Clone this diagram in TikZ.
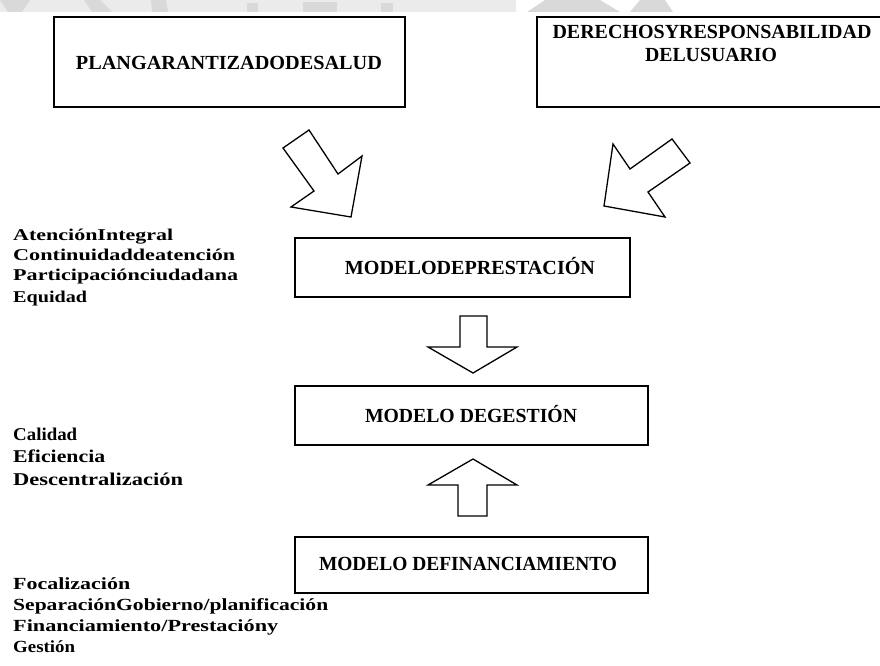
\documentclass[tikz,border=0pt]{standalone}
\usepackage{fontspec}
\setmainfont{Liberation Serif}
\usepackage{graphicx}
\newcommand{\fitw}[2]{\resizebox{#1pt}{\height}{#2}}
\begin{document}
\begin{tikzpicture}[x=1pt,y=-1pt,
  box/.style={draw, line width=2.4pt, inner sep=0pt},
  bigarrow/.style={draw, line width=1.3pt, line join=miter, fill=white},
  boxtext/.style={inner sep=0pt, anchor=base, font=\fontsize{20}{24}\selectfont\bfseries},
  sidetext/.style={inner sep=0pt, anchor=base west, font=\fontsize{16.5}{20}\selectfont\bfseries},
  sidetextb/.style={sidetext, font=\fontsize{18}{22}\selectfont\bfseries},
  sidetextc/.style={sidetext, font=\fontsize{17}{21}\selectfont\bfseries},
  wmlight/.style={fill=black!8},
  wmdark/.style={fill=black!15}]
\useasboundingbox (0,0) rectangle (880,666);
\begin{scope}
\clip (0,0) rectangle (880,666);
% faint watermark strip at the top
\fill[wmlight] (0,0) rectangle (516,12);
\fill[wmdark] (0,0) -- (30,0) -- (22,12) -- (8,12) -- cycle;
\fill[wmdark] (84,0) -- (100,0) -- (112,12) -- (92,12) -- cycle;
\fill[wmdark] (151,0) -- (166,0) -- (168,12) -- (152,12) -- cycle;
\fill[wmdark] (247,3) rectangle (258,12);
\fill[wmdark] (303,2) rectangle (337,12);
\fill[wmdark] (381,3) rectangle (393,12);
\fill[wmdark] (527,12) -- (545,0) -- (600,0) -- (620,12) -- cycle;
\fill[wmdark] (630,12) -- (640,0) -- (665,0) -- (673,12) -- cycle;

% boxes
\node[box, minimum width=351pt, minimum height=90pt] (plan) at (229.5,62) {};
\node[box, minimum width=348pt, minimum height=90pt] (derechos) at (711,62) {};
\node[box, minimum width=335pt, minimum height=59pt] (prest) at (462.5,267.5) {};
\node[box, minimum width=353pt, minimum height=59pt] (gest) at (471.5,415.5) {};
\node[box, minimum width=353pt, minimum height=56pt] (fin) at (471.5,565) {};

% box texts
\node[boxtext] (tplan) at (229,69.5) {\fitw{306}{PLANGARANTIZADODESALUD}};
\node[boxtext] (tder1) at (712,39) {\fitw{319}{DERECHOSYRESPONSABILIDAD}};
\node[boxtext] (tder2) at (711,62) {\fitw{132}{DELUSUARIO}};
\node[boxtext] (tprest) at (470,274) {\fitw{250}{MODELODEPRESTACIÓN}};
\node[boxtext] (tgest) at (471,422) {\fitw{212}{MODELO DEGESTIÓN}};
\node[boxtext] (tfin) at (468,570) {\fitw{298}{MODELO DEFINANCIAMIENTO}};

% block arrows
\draw[bigarrow] (283,148) -- (309,130) -- (338,174) -- (362,156) -- (351,217) -- (291,207) -- (314,191) -- cycle;
\draw[bigarrow] (672,139) -- (690,163) -- (648,192) -- (665,217) -- (604,206) -- (613,144) -- (630,169) -- cycle;
\draw[bigarrow] (460,316) -- (487,316) -- (487,347) -- (517,347) -- (473,373) -- (428,347) -- (460,347) -- cycle;
\draw[bigarrow] (473,459) -- (517,485) -- (487,485) -- (487,516) -- (458,516) -- (458,485) -- (428,485) -- cycle;

% side texts
\node[sidetext] (a1) at (13,240.5) {\fitw{160}{AtenciónIntegral}};
\node[sidetext] (a2) at (13,260.5) {\fitw{222}{Continuidaddeatención}};
\node[sidetext] (a3) at (13,280.5) {\fitw{225}{Participaciónciudadana}};
\node[sidetext] (a4) at (13,302) {\fitw{74}{Equidad}};

\node[sidetextb] (b1) at (13,440.5) {\fitw{64}{Calidad}};
\node[sidetextb] (b2) at (13,462.5) {\fitw{92}{Eficiencia}};
\node[sidetextb] (b3) at (13,485.5) {\fitw{170}{Descentralización}};

\node[sidetextc] (c1) at (13,589.5) {\fitw{117}{Focalización}};
\node[sidetextc] (c2) at (13,610.5) {\fitw{315}{SeparaciónGobierno/planificación}};
\node[sidetextc] (c3) at (13,631.5) {\fitw{265}{Financiamiento/Prestacióny}};
\node[sidetextc] (c4) at (13,652.5) {\fitw{62}{Gestión}};
\end{scope}
\end{tikzpicture}
\end{document}
